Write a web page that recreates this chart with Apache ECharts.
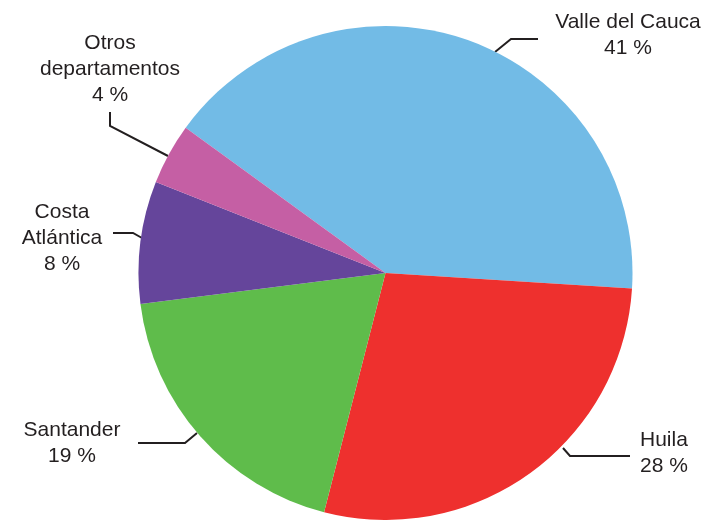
<!DOCTYPE html>
<html>
<head>
<meta charset="utf-8">
<script src="https://cdn.jsdelivr.net/npm/echarts@6/dist/echarts.min.js"></script>
<style>
  html, body { margin: 0; padding: 0; background: #fff; }
  #chart { width: 702px; height: 520px; }
</style>
</head>
<body>
<div id="chart"></div>
<script>
// ---- data ----
var categories = ['Valle del Cauca', 'Huila', 'Santander', 'Costa\nAtlántica', 'Otros\ndepartamentos'];
var values = [41, 28, 19, 8, 4];
var colors = ['#72BBE6', '#EE302E', '#5FBC4B', '#65459B', '#C55FA4'];

// ---- label layout (positions only) ----
var labelPos = [
  { x: 628, y: 35, align: 'center', line: [[495, 52], [511, 39], [538, 39]] },
  { x: 640, y: 453, align: 'left', line: [[563, 448], [570, 456], [630, 456]] },
  { x: 72, y: 443, align: 'center', line: [[197, 433], [185, 443], [138, 443]] },
  { x: 62, y: 238, align: 'center', line: [[142, 238], [133, 233], [113, 233]] },
  { x: 110, y: 69, align: 'center', line: [[168, 156], [110, 126], [110, 112]] }
];

var chart = echarts.init(document.getElementById('chart'), null, { renderer: 'canvas' });
var data = categories.map(function (c, i) {
  return { name: c, value: values[i], itemStyle: { color: colors[i] } };
});

chart.setOption({
  animation: false,
  series: [{
    type: 'pie',
    center: [385.5, 273],
    radius: [0, 247],
    startAngle: 144,
    clockwise: true,
    data: data,
    itemStyle: { borderWidth: 0 },
    label: {
      show: true,
      position: 'outside',
      formatter: function (p) { return p.name + '\n' + p.value + ' %'; },
      fontFamily: '"Liberation Sans", Arial, sans-serif',
      fontSize: 21,
      lineHeight: 26,
      color: '#231F20',
      overflow: 'none',
      width: 200
    },
    labelLine: {
      show: true,
      smooth: false,
      lineStyle: { color: '#231F20', width: 2 }
    },
    labelLayout: function (params) {
      var lp = labelPos[params.dataIndex];
      return {
        x: lp.x,
        y: lp.y,
        align: lp.align,
        verticalAlign: 'middle',
        labelLinePoints: lp.line
      };
    },
    emphasis: { disabled: true }
  }]
});
</script>
</body>
</html>
